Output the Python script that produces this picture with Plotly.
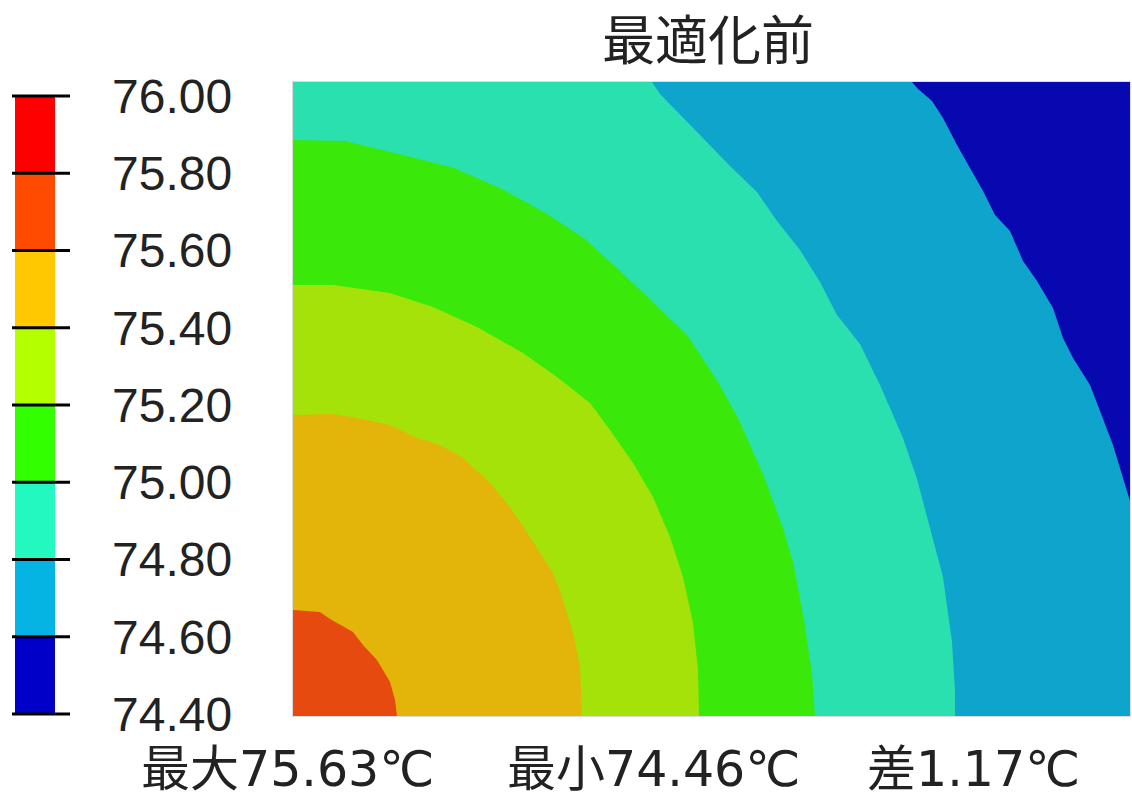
import numpy as np
import plotly.graph_objects as go

# Plate extent (plot units) for the quarter model, origin at the hot corner
PLATE_W = 837
PLATE_H = 634

# Colour scale levels (°C) and the legend colours of each band
levels = [74.40, 74.60, 74.80, 75.00, 75.20, 75.40, 75.60, 75.80, 76.00]
legend_colors = ["#0000C8", "#06B4E4", "#22F8C0", "#32FF00",
                 "#B4FF00", "#FFC800", "#FF4B00", "#FF0000"]

# Shaded colours used for the bands on the plate (lowest band first)
band_colors = ["#0808B0", "#0EA4CC", "#2AE0AE", "#3AE80A",
               "#A5E20A", "#E3B40A", "#E64A0E"]

# Isotherm traces: each separates a band from the next warmer one
iso_74_6_x = [619, 624, 639, 650, 664, 677, 690, 702, 717, 730, 744, 760, 770, 780, 797, 807, 820, 830, 837]
iso_74_6_y = [634, 628, 615, 598, 571, 548, 525, 501, 485, 455, 435, 408, 378, 358, 331, 305, 271, 238, 215]

iso_74_8_x = [359, 367, 407, 437, 464, 484, 507, 527, 544, 567, 587, 610, 624, 637, 650, 659, 662, 662]
iso_74_8_y = [634, 622, 581, 550, 524, 495, 466, 434, 401, 372, 331, 278, 237, 188, 139, 74, 25, 0]

iso_75_0_x = [0, 52, 110, 161, 209, 254, 292, 326, 363, 394, 425, 446, 470, 490, 500, 511, 519, 522]
iso_75_0_y = [576, 575, 561, 548, 527, 502, 477, 446, 411, 381, 334, 296, 242, 188, 154, 96, 42, 0]

iso_75_2_x = [0, 40, 97, 140, 184, 230, 264, 297, 317, 340, 360, 377, 390, 400, 405, 406]
iso_75_2_y = [431, 431, 423, 409, 389, 363, 339, 313, 286, 253, 219, 179, 139, 93, 46, 0]

iso_75_4_x = [0, 40, 64, 97, 124, 147, 170, 197, 217, 237, 260, 270, 280, 287, 289]
iso_75_4_y = [301, 302, 298, 291, 278, 271, 258, 233, 209, 179, 143, 116, 83, 49, 0]

iso_75_6_x = [0, 10, 27, 37, 60, 70, 84, 97, 102, 104]
iso_75_6_y = [106, 105, 104, 97, 84, 71, 56, 34, 16, 0]

isotherms = [(iso_74_6_x, iso_74_6_y), (iso_74_8_x, iso_74_8_y),
             (iso_75_0_x, iso_75_0_y), (iso_75_2_x, iso_75_2_y),
             (iso_75_4_x, iso_75_4_y), (iso_75_6_x, iso_75_6_y)]

title_text = "最適化前"
summary_texts = ["最大75.63℃", "最小74.46℃", "差1.17℃"]

W_PX, H_PX = 1132, 802


def warm_side(xs, ys):
    """Close an isotherm into the polygon on its warm (lower-left) side."""
    px, py = list(xs), list(ys)
    if px[-1] >= PLATE_W:
        px.append(PLATE_W)
        py.append(0)
    px.append(0)
    py.append(0)
    if py[0] >= PLATE_H:
        px.append(0)
        py.append(PLATE_H)
    px.append(px[0])
    py.append(py[0])
    return px, py


fig = go.Figure()

# Coldest band covers the whole plate
fig.add_trace(go.Scatter(
    x=[0, PLATE_W, PLATE_W, 0, 0], y=[0, 0, PLATE_H, PLATE_H, 0],
    fill="toself", fillcolor=band_colors[0], mode="lines",
    line=dict(width=0, color=band_colors[0]), hoverinfo="skip",
    showlegend=False))

# Warmer bands stacked on top, each bounded by its isotherm
for (xs, ys), col in zip(isotherms, band_colors[1:]):
    px, py = warm_side(xs, ys)
    fig.add_trace(go.Scatter(
        x=px, y=py, fill="toself", fillcolor=col, mode="lines",
        line=dict(width=0, color=col), hoverinfo="skip", showlegend=False))

# Legend bar: one segment per band, on its own axes
heights = np.diff(levels)
fig.add_trace(go.Bar(
    x=[23] * len(heights), y=heights, base=levels[:-1], width=40,
    marker=dict(color=legend_colors, line=dict(width=0)),
    xaxis="x2", yaxis="y2", hoverinfo="skip", showlegend=False))

# Tick bars across the legend at each level
tx, ty = [], []
for lv in levels:
    tx += [0, 58, None]
    ty += [lv, lv, None]
fig.add_trace(go.Scatter(
    x=tx, y=ty, mode="lines", line=dict(color="black", width=3),
    xaxis="x2", yaxis="y2", hoverinfo="skip", showlegend=False))

# Pixel geometry of the plate and legend
plate_l, plate_r, plate_t, plate_b = 293, 1130, 82, 716
bar_l, bar_r = 12, 70
lv_top_px, lv_bot_px = 96, 714
pad = 0.01
px_per_deg = (lv_bot_px - lv_top_px) / (levels[-1] - levels[0])
y2_top = lv_top_px - pad * px_per_deg
y2_bot = lv_bot_px + pad * px_per_deg

fig.update_layout(
    width=W_PX, height=H_PX, autosize=False,
    margin=dict(l=0, r=0, t=0, b=0, pad=0),
    paper_bgcolor="white", plot_bgcolor="white",
    xaxis=dict(domain=[plate_l / W_PX, plate_r / W_PX], range=[0, PLATE_W],
               showgrid=False, zeroline=False, showticklabels=False,
               showline=True, linecolor="#dcdcdc", linewidth=1, mirror=True,
               automargin=False, fixedrange=True),
    yaxis=dict(domain=[(H_PX - plate_b) / H_PX, (H_PX - plate_t) / H_PX],
               range=[0, PLATE_H], showgrid=False, zeroline=False,
               showticklabels=False, showline=True, linecolor="#dcdcdc",
               linewidth=1, mirror=True, automargin=False, fixedrange=True),
    xaxis2=dict(domain=[bar_l / W_PX, bar_r / W_PX], range=[0, 58],
                anchor="y2", showgrid=False, zeroline=False,
                showticklabels=False, showline=False, automargin=False,
                fixedrange=True),
    yaxis2=dict(domain=[(H_PX - y2_bot) / H_PX, (H_PX - y2_top) / H_PX],
                range=[levels[0] - pad, levels[-1] + pad], anchor="x2",
                side="right", showgrid=False, zeroline=False, showline=False,
                tickmode="array", tickvals=levels,
                ticktext=[f"{v:.2f}" for v in levels],
                ticks="", ticklabelstandoff=41, automargin=False,
                tickfont=dict(family="Liberation Sans", size=48, color="#222222"),
                fixedrange=True),
    showlegend=False,
)

fig.add_annotation(text=title_text, xref="paper", yref="paper",
                   x=708 / W_PX, y=(H_PX - 37) / H_PX, showarrow=False,
                   xanchor="center", yanchor="middle",
                   font=dict(family="Noto Sans CJK JP", size=53, color="#222222"))

for txt, cx in zip(summary_texts, [287, 653, 973]):
    fig.add_annotation(text=txt, xref="paper", yref="paper",
                       x=cx / W_PX, y=(H_PX - 769) / H_PX, showarrow=False,
                       xanchor="center", yanchor="middle",
                       font=dict(family="DejaVu Sans, Noto Sans CJK JP", size=49,
                                 color="#222222"))

fig.write_html("out.html")
